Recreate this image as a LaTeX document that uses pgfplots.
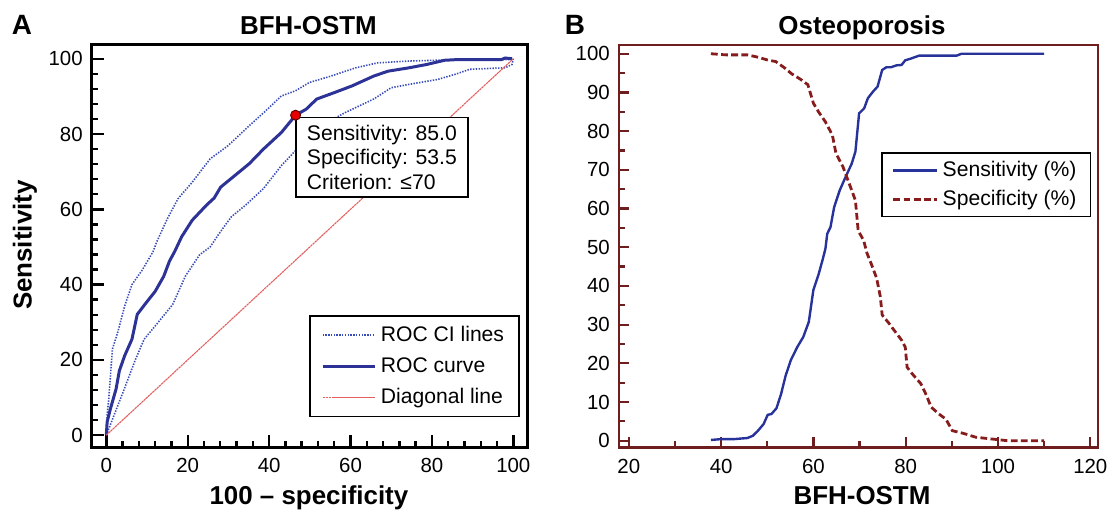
\documentclass[border=0pt]{standalone}
\usepackage{fontspec}
\setmainfont{Liberation Sans}
\usepackage{pgfplots}
\pgfplotsset{compat=1.18}

\definecolor{rocblue}{RGB}{45,50,150}
\definecolor{ciblue}{RGB}{55,75,185}
\definecolor{diagred}{RGB}{228,95,95}
\definecolor{specred}{RGB}{135,28,28}
\definecolor{boxred}{RGB}{110,30,30}
\definecolor{sensblue}{RGB}{40,50,155}

\newcommand{\ticksize}{\fontsize{10.25}{12}\selectfont}
\newcommand{\legsize}{\fontsize{10.6}{12.5}\selectfont}
\newcommand{\headsize}{\bfseries\fontsize{13}{15}\selectfont}

\begin{document}
\begin{tikzpicture}
\path (0,0) rectangle (557pt,257pt);

% ---------------- panel A: ROC curve
\begin{axis}[
  at={(46pt,32.5pt)}, anchor=south west,
  scale only axis, width=218.5pt, height=202pt,
  xmin=-3.6, xmax=103.4, ymin=-3.26, ymax=103.7,
  xtick={0,20,...,100}, ytick={0,20,...,100}, minor tick num=4,
  tick align=inside, xtick pos=bottom, ytick pos=left,
  major tick length=6.3pt, minor tick length=3.3pt,
  axis line style={line width=1.5pt},
  every tick/.style={black, line width=1.2pt},
  ticklabel style={font=\ticksize},
  xticklabel style={yshift=-2pt},
  yticklabel style={xshift=-1pt},
  /pgf/number format/assume math mode=true,
  legend style={at={(axis cs:101.6,4.7)}, anchor=south east,
    draw=black, line width=0.8pt, font=\legsize,
    inner xsep=5.5pt, inner ysep=3pt, row sep=2.6pt,
    cells={anchor=west}},
  legend image code/.code={\draw[#1] (0pt,0pt) -- (26.5pt,0pt);},
]
\addplot[ciblue, line width=0.8pt, dash pattern=on 0.7pt off 0.7pt] coordinates {
(0,0) (0.2,5.3) (0.6,9.7) (1.5,22.9) (2.8,27.3) (4.5,34.3) (6.3,40) (8.9,44)
(11.5,48.8) (12.4,51.4) (15,57.5) (17.6,62.8) (21.1,67.2) (25.5,73.4)
(29.9,76.9) (35.1,82.2) (39,86) (43,90.1) (46.5,91.5) (49.9,93.7) (55.2,95.4)
(61.3,97.6) (66.6,98.9) (74.4,99.4) (87.5,99.8) (99.7,99.8) (100,100)
};
\addlegendentry{ROC CI lines}
\addplot[ciblue, line width=0.8pt, dash pattern=on 0.7pt off 0.7pt, forget plot] coordinates {
(0,0) (1.9,5.3) (4.1,11.4) (7.2,20.2) (9.3,25.5) (12,29) (16.3,34.7)
(19.4,42.2) (22.9,47.9) (25.5,50) (28,54) (30.7,58) (34.2,61.1) (38.6,65.5)
(43,71.6) (46.5,75.6) (49.9,79.6) (54.3,83.1) (58.7,85.7) (65.7,89.3)
(70,92.3) (74.4,93.2) (81.4,94.5) (85.8,95.9) (89.3,97.2) (98,97.6)
(99.7,98.5) (100,100)
};
\addplot[rocblue, line width=1.5pt] coordinates {
(0,0) (0.2,3.5) (1,7) (2.4,12.3) (3.2,17.1) (4.5,21.1) (6.3,25.5) (7.6,32.1)
(9.8,35.2) (12,38.2) (14.1,42.2) (15.5,46.2) (16.8,48.8) (18.5,52.7)
(21.1,57.1) (24.6,61.1) (26.5,63) (28.1,65.9) (31.6,69) (35.1,72.1)
(38.6,76) (43,80.4) (46.5,85) (49.1,86.6) (51.7,89.3) (56,91) (60.4,92.8)
(65.7,95.4) (69.2,96.7) (74.4,97.6) (78.8,98.5) (83.1,99.6) (86.6,99.8)
(97.1,99.8) (98,100.2) (99.7,100)
};
\addlegendentry{ROC curve}
\addplot[diagred, line width=0.55pt, dash pattern=on 1.2pt off 0.3pt] coordinates {(0,0) (100,100)};
\addlegendentry{Diagonal line}
\addplot[only marks, mark=*, mark size=2.5pt, fill=red!90!black,
  draw=black!60!red, line width=0.5pt, forget plot] coordinates {(46.5,85)};
\node[draw=black, line width=0.8pt, fill=white, anchor=north west,
  align=left, font=\legsize, inner xsep=5.5pt, inner ysep=3.6pt]
  at (axis cs:46.4,84.6)
  {Sensitivity: 85.0\\Specificity: 53.5\\Criterion: ≤70};
\end{axis}

% ---------------- panel B: sensitivity / specificity vs criterion
\begin{axis}[
  at={(310.5pt,32.5pt)}, anchor=south west,
  scale only axis, width=240.5pt, height=202pt,
  xmin=17.84, xmax=121.7, ymin=-1.73, ymax=102.3,
  xtick={20,40,...,120}, ytick={0,10,...,100}, minor tick num=1,
  tick align=inside, xtick pos=bottom, ytick pos=left,
  major tick length=5pt, minor tick length=3pt,
  axis line style={boxred, line width=1.2pt},
  every tick/.style={boxred, line width=1.1pt},
  ticklabel style={font=\ticksize},
  xticklabel style={yshift=-2.3pt},
  yticklabel style={xshift=-1pt},
  /pgf/number format/assume math mode=true,
  legend style={at={(axis cs:120.2,74.5)}, anchor=north east,
    draw=black, line width=0.8pt, font=\legsize,
    inner xsep=5pt, inner ysep=2pt, row sep=1.4pt,
    cells={anchor=west}},
  legend image code/.code={\draw[#1] (0pt,0pt) -- (22pt,0pt);},
]
\addplot[sensblue, line width=1.2pt] coordinates {
(37.8,0.2) (39.8,0.4) (42.6,0.4) (45.7,0.7) (46.9,1.3) (48,2.6) (49.2,4.3)
(50.1,6.7) (50.9,6.9) (52,8.4) (53,12.1) (54,16.9) (55.1,20.8) (56.5,24.2)
(57.8,26.8) (59,30.7) (60,39) (61.1,42.9) (62,46.8) (62.6,49.6) (63,53.5)
(63.7,55.2) (64.5,60.4) (65.7,64.7) (66.8,67.7) (68.3,71.6) (69.1,74.7)
(69.9,84.6) (71,85.9) (71.8,88.5) (72.9,90.2) (73.9,91.5) (74.9,95.8)
(75.8,96.5) (76.8,96.5) (78,97) (79.1,97.1) (79.9,98.3) (81,98.7)
(82.9,99.5) (91,99.5) (92.1,100) (110,100)
};
\addlegendentry{Sensitivity (\%)}
\addplot[specred, line width=1.4pt, dash pattern=on 3.4pt off 1.7pt] coordinates {
(37.8,100) (41.1,99.7) (45.7,99.7) (48,99.1) (50.3,98.3) (51.8,98)
(53.8,96.3) (55.3,94.8) (57.2,93.4) (58.8,92) (60,87.2) (61.1,85)
(62.6,82.4) (64.1,79) (64.9,74.2) (66.4,70.8) (68.3,64.7) (69.1,62.1)
(69.7,54.3) (70.9,51.7) (71.6,48.5) (72.6,45.5) (73.7,42) (74.5,37.2)
(74.9,32.5) (76.4,30.3) (77.2,29) (79.1,26) (79.9,24.2) (80.3,19)
(81.4,17.3) (83.3,14.7) (84.5,11.7) (85.5,8.7) (87.2,6.9) (88.7,5.6)
(90.1,2.6) (92.5,1.9) (95.2,0.9) (99.8,0.3) (102.1,0) (110,0)
};
\addlegendentry{Specificity (\%)}
\end{axis}

% ---------------- panel letters, titles, axis labels
\node[font=\bfseries\fontsize{14}{16}\selectfont, anchor=base] at (11pt,239.5pt) {A};
\node[font=\bfseries\fontsize{14}{16}\selectfont, anchor=base] at (288.5pt,239.5pt) {B};
\node[font=\headsize, anchor=base] at (154.75pt,239.5pt) {BFH-OSTM};
\node[font=\headsize, anchor=base] at (432.5pt,239.5pt) {Osteoporosis};
\node[font=\headsize, anchor=base] at (155pt,4pt) {100 – specificity};
\node[font=\headsize, anchor=base] at (432.5pt,4pt) {BFH-OSTM};
\node[font=\headsize, rotate=90, anchor=center] at (12.5pt,134pt) {Sensitivity};
\end{tikzpicture}
\end{document}
